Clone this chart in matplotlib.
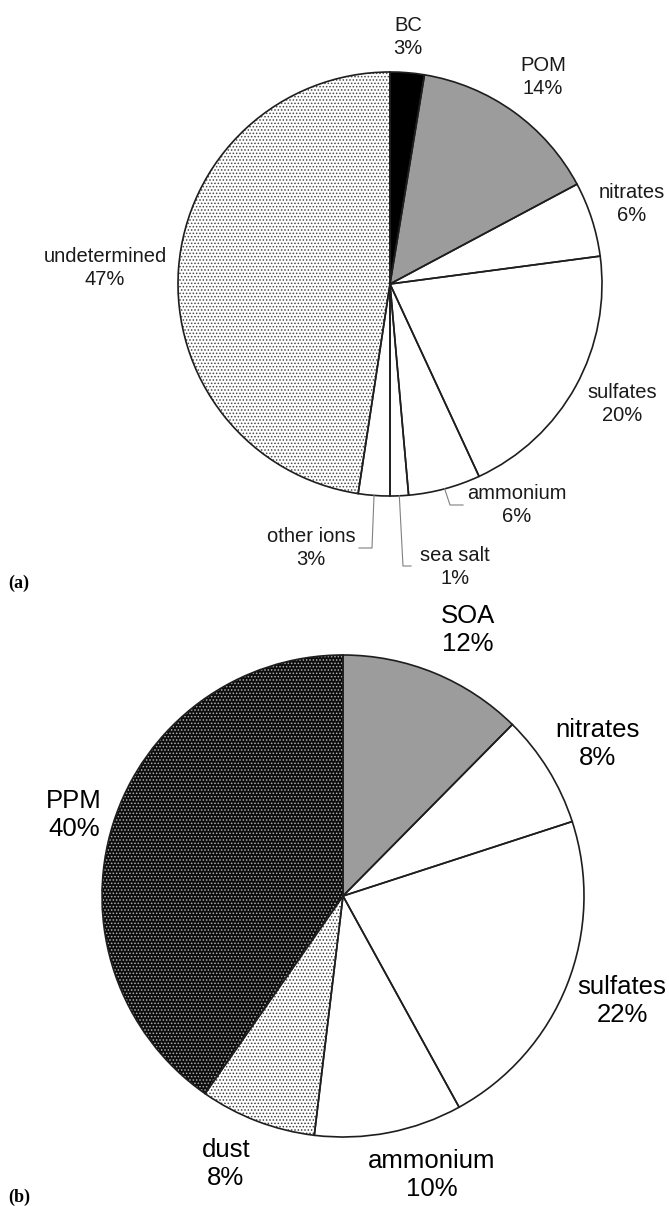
import matplotlib.pyplot as plt
import numpy as np

plt.rcParams["font.family"] = ["Liberation Sans", "DejaVu Sans"]
plt.rcParams["hatch.linewidth"] = 0.7

# ----------------------------------------------------------------------------------------------
# Data
# ----------------------------------------------------------------------------------------------
# (a) observed composition, clockwise from 12 o'clock
obs_names = ["BC", "POM", "nitrates", "sulfates", "ammonium", "sea salt", "other ions", "undetermined"]
obs_values = [2.6, 14.6, 5.7, 20.2, 5.5, 1.4, 2.4, 47.6]
obs_pct = [3, 14, 6, 20, 6, 1, 3, 47]

# (b) modelled composition, clockwise from 12 o'clock
mod_names = ["SOA", "nitrates", "sulfates", "ammonium", "dust", "PPM"]
mod_values = [12.4, 7.6, 22.0, 9.9, 7.8, 40.3]
mod_pct = [12, 8, 22, 10, 8, 40]

# ----------------------------------------------------------------------------------------------
# Styles / layout (pixel coordinates, y measured from top)
# ----------------------------------------------------------------------------------------------
W, H = 669, 1206
obs_center, obs_radius = (390, 284), 212
mod_center, mod_radius = (343, 896), 241

obs_fill = ["black", "#9c9c9c", "white", "white", "white", "white", "white", "white"]
obs_hatch = [None, None, None, None, None, None, None, "....."]
obs_hatch_col = ["black", "#9c9c9c", "white", "white", "white", "white", "white", "#4a4a4a"]
obs_label_pos = [(408, 37), (543, 77), (632, 204), (622, 404), (517, 505),
                 (455, 567), (311, 548), (105, 268)]

mod_fill = ["#9c9c9c", "white", "white", "white", "white", "#0c0c0c"]
mod_hatch = [None, None, None, None, ".....", "....."]
mod_hatch_col = ["#9c9c9c", "white", "white", "white", "#3c3c3c", "#b0b0b0"]
# positions in slice order: SOA, nitrates, sulfates, ammonium, dust, PPM
mod_label_pos = [(468, 630), (598, 744), (622, 1001), (432, 1175), (226, 1164), (74, 815)]


def fy(y):
    return H - y


fig = plt.figure(figsize=(W / 100, H / 100), dpi=100)
ax = fig.add_axes([0, 0, 1, 1])


def draw_pie(values, center, radius, fills, hatches, hatch_cols):
    c = (center[0], fy(center[1]))
    wedges, _ = ax.pie(values, colors=fills, startangle=90, counterclock=False,
                       center=c, radius=radius, wedgeprops=dict(linewidth=0))
    for w, h, hc in zip(wedges, hatches, hatch_cols):
        if h:
            w.set_hatch(h)
            w.set_edgecolor(hc)
            w.set_linewidth(0)
    # outlines drawn on top
    ax.pie(values, colors=["none"] * len(values), startangle=90,
           counterclock=False, center=c, radius=radius,
           wedgeprops=dict(linewidth=1.2, edgecolor="#1e1e1e", fill=False))
    return wedges


draw_pie(obs_values, obs_center, obs_radius, obs_fill, obs_hatch, obs_hatch_col)
draw_pie(mod_values, mod_center, mod_radius, mod_fill, mod_hatch, mod_hatch_col)

# labels
for name, pct, (x, y) in zip(obs_names, obs_pct, obs_label_pos):
    ax.text(x, fy(y), f"{name}\n{pct}%", ha="center", va="center", fontsize=14.5,
            color="#1a1a1a", linespacing=1.3)

for name, pct, (x, y) in zip(mod_names, mod_pct, mod_label_pos):
    ax.text(x, fy(y), f"{name}\n{pct}%", ha="center", va="center", fontsize=18.5,
            color="black", linespacing=1.2)

# leader lines for the small slices in (a)
cum = np.cumsum([0] + obs_values)
mid = {n: (cum[i] + cum[i + 1]) / 2 for i, n in enumerate(obs_names)}


def edge_point(name):
    ang = np.deg2rad(90 - mid[name] / 100 * 360)
    return (obs_center[0] + obs_radius * np.cos(ang),
            obs_center[1] - obs_radius * np.sin(ang))


leaders = {"other ions": [(372, 548), (359, 548)],
           "sea salt": [(403, 566), (411, 566)],
           "ammonium": [(450, 505), (463, 505)]}
for name, pts in leaders.items():
    x0, y0 = edge_point(name)
    xs = [x0] + [p[0] for p in pts]
    ys = [fy(y0)] + [fy(p[1]) for p in pts]
    ax.plot(xs, ys, color="#808080", linewidth=0.8)

# panel tags
ax.text(8, fy(583), "(a)", ha="left", va="center", fontsize=13, fontweight="bold",
        family="Liberation Serif")
ax.text(8, fy(1197), "(b)", ha="left", va="center", fontsize=13, fontweight="bold",
        family="Liberation Serif")

ax.set_xlim(0, W)
ax.set_ylim(0, H)
ax.set_aspect("equal")
ax.axis("off")

fig.savefig("out.png", dpi=100, facecolor="white")
